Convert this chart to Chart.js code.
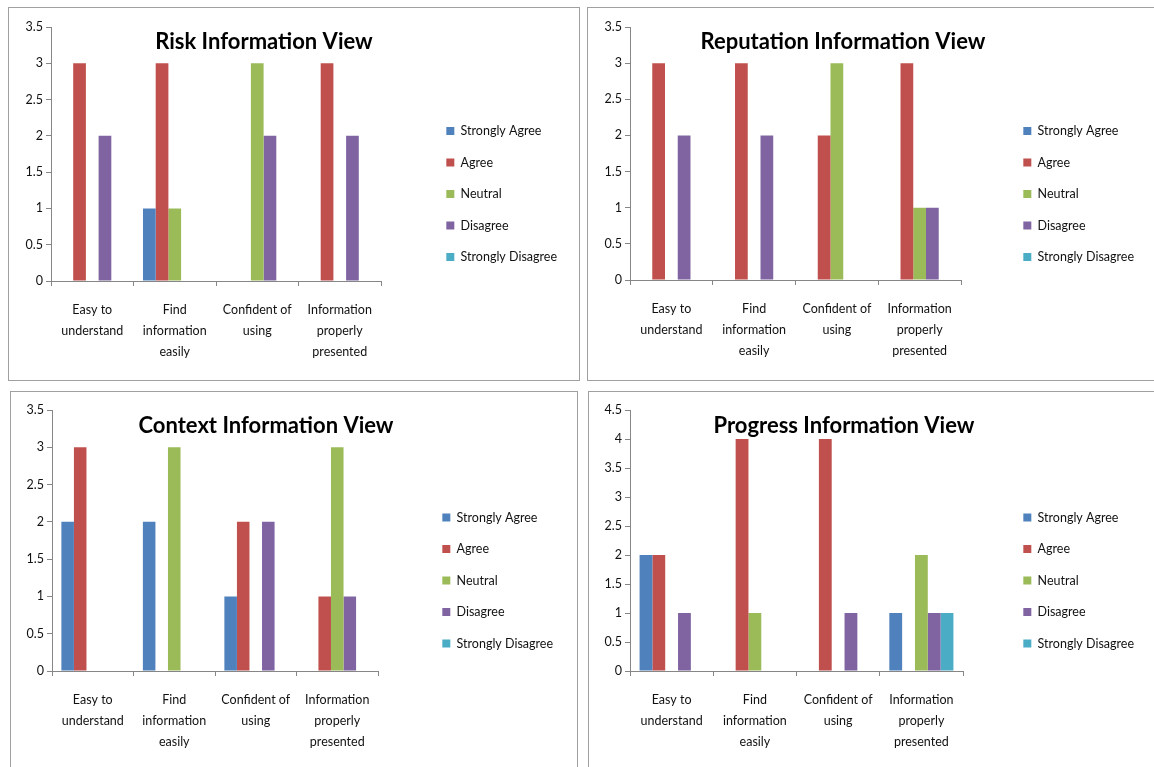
<!DOCTYPE html>
<html>
<head>
<meta charset="utf-8">
<script src="https://cdn.jsdelivr.net/npm/chart.js@4"></script>
<style>
    body {
        margin: 0;
        background: #ffffff;
        width: 1154px;
        height: 767px;
        overflow: hidden;
        position: relative;
    }
    .panel {
        position: absolute;
        border: 1px solid #a0a0a0;
        background: #ffffff;
    }
    .panel canvas {
        display: block;
    }
</style>
</head>
<body>
<div class="panel" style="left:8px; top:7px;"><canvas id="riskChart" width="570" height="372"></canvas></div>
<div class="panel" style="left:587px; top:7px;"><canvas id="reputationChart" width="568" height="372"></canvas></div>
<div class="panel" style="left:10px; top:391px;"><canvas id="contextChart" width="566" height="377"></canvas></div>
<div class="panel" style="left:588px; top:391px;"><canvas id="progressChart" width="566" height="377"></canvas></div>

<script>
// Kategorien (x-Achse) und Antworten (Legende)
const categories = [
    ['Easy to', 'understand'],
    ['Find', 'information', 'easily'],
    ['Confident of', 'using'],
    ['Information', 'properly', 'presented']
];
const responses = ['Strongly Agree', 'Agree', 'Neutral', 'Disagree', 'Strongly Disagree'];
const responseColors = ['#4F81BD', '#C0504D', '#9BBB59', '#8064A2', '#4BACC6'];

// Risk Information View
const riskStronglyAgree    = [0, 1, 0, 0];
const riskAgree            = [3, 3, 0, 3];
const riskNeutral          = [0, 1, 3, 0];
const riskDisagree         = [2, 0, 2, 2];
const riskStronglyDisagree = [0, 0, 0, 0];

// Reputation Information View
const reputationStronglyAgree    = [0, 0, 0, 0];
const reputationAgree            = [3, 3, 2, 3];
const reputationNeutral          = [0, 0, 3, 1];
const reputationDisagree         = [2, 2, 0, 1];
const reputationStronglyDisagree = [0, 0, 0, 0];

// Context Information View
const contextStronglyAgree    = [2, 2, 1, 0];
const contextAgree            = [3, 0, 2, 1];
const contextNeutral          = [0, 3, 0, 3];
const contextDisagree         = [0, 0, 2, 1];
const contextStronglyDisagree = [0, 0, 0, 0];

// Progress Information View
const progressStronglyAgree    = [2, 0, 0, 1];
const progressAgree            = [2, 4, 4, 0];
const progressNeutral          = [0, 1, 0, 2];
const progressDisagree         = [1, 0, 1, 1];
const progressStronglyDisagree = [0, 0, 0, 1];

const FONT = 'Lato, "Open Sans", sans-serif';
const TEXT_COLOR = '#111111';
const AXIS_COLOR = '#868686';

// Titel liegt im Plotbereich wie in Excel
const panelTitle = {
    id: 'panelTitle',
    afterDraw(chart, args, opts) {
        const ctx = chart.ctx;
        ctx.save();
        ctx.font = 'bold 22px ' + FONT;
        ctx.fillStyle = '#000000';
        ctx.textAlign = 'center';
        ctx.textBaseline = 'middle';
        ctx.fillText(opts.text, opts.x, opts.y);
        ctx.restore();
    }
};

function makeChart(canvasId, title, series, yMax, box) {
    const ctx = document.getElementById(canvasId).getContext('2d');
    const padRight = box.padRight;

    return new Chart(ctx, {
        type: 'bar',
        data: {
            labels: categories,
            datasets: series.map((values, i) => ({
                label: responses[i],
                data: values,
                backgroundColor: responseColors[i],
                borderWidth: 0,
                categoryPercentage: 0.77,
                barPercentage: 1.0
            }))
        },
        options: {
            responsive: false,
            animation: false,
            layout: {
                padding: { top: box.top, bottom: box.top, left: 0, right: padRight }
            },
            plugins: {
                tooltip: { enabled: false },
                title: { display: false },
                panelTitle: { text: title, x: 255, y: 34 },
                legend: {
                    position: 'right',
                    align: 'center',
                    maxWidth: 300,
                    labels: {
                        boxWidth: 8,
                        boxHeight: 8,
                        padding: 19,
                        color: TEXT_COLOR,
                        font: { family: FONT, size: 12.5 }
                    }
                }
            },
            scales: {
                x: {
                    grid: {
                        drawOnChartArea: false,
                        drawTicks: true,
                        tickLength: 5,
                        color: AXIS_COLOR
                    },
                    border: { color: AXIS_COLOR },
                    ticks: {
                        maxRotation: 0,
                        autoSkip: false,
                        padding: 14,
                        color: TEXT_COLOR,
                        font: { family: FONT, size: 12.5, lineHeight: 1.65 }
                    },
                    afterFit: s => { s.height = s.chart.height - box.top - box.bottom; }
                },
                y: {
                    min: 0,
                    max: yMax,
                    grid: {
                        drawOnChartArea: false,
                        drawTicks: true,
                        tickLength: 5,
                        color: AXIS_COLOR
                    },
                    border: { color: AXIS_COLOR },
                    ticks: {
                        stepSize: 0.5,
                        padding: 3,
                        color: TEXT_COLOR,
                        font: { family: FONT, size: 12.5 },
                        callback: v => String(v)
                    },
                    afterFit: s => { s.width = box.left; }
                },
                gap: {
                    type: 'linear',
                    position: 'right',
                    grid: { display: false },
                    border: { display: false },
                    ticks: { display: false },
                    afterFit: s => {
                        s.width = Math.max(0, s.chart.width - padRight - s.chart.legend.width - box.right);
                    }
                }
            }
        },
        plugins: [panelTitle]
    });
}

makeChart('riskChart', 'Risk Information View',
    [riskStronglyAgree, riskAgree, riskNeutral, riskDisagree, riskStronglyDisagree],
    3.5, { left: 42, top: 19, right: 372, bottom: 273, padRight: 12 });

makeChart('reputationChart', 'Reputation Information View',
    [reputationStronglyAgree, reputationAgree, reputationNeutral, reputationDisagree, reputationStronglyDisagree],
    3.5, { left: 42, top: 19, right: 373, bottom: 272, padRight: 12 });

makeChart('contextChart', 'Context Information View',
    [contextStronglyAgree, contextAgree, contextNeutral, contextDisagree, contextStronglyDisagree],
    3.5, { left: 41, top: 18, right: 367, bottom: 279, padRight: 14 });

makeChart('progressChart', 'Progress Information View',
    [progressStronglyAgree, progressAgree, progressNeutral, progressDisagree, progressStronglyDisagree],
    4.5, { left: 41, top: 18, right: 374, bottom: 279, padRight: 11 });
</script>
</body>
</html>
